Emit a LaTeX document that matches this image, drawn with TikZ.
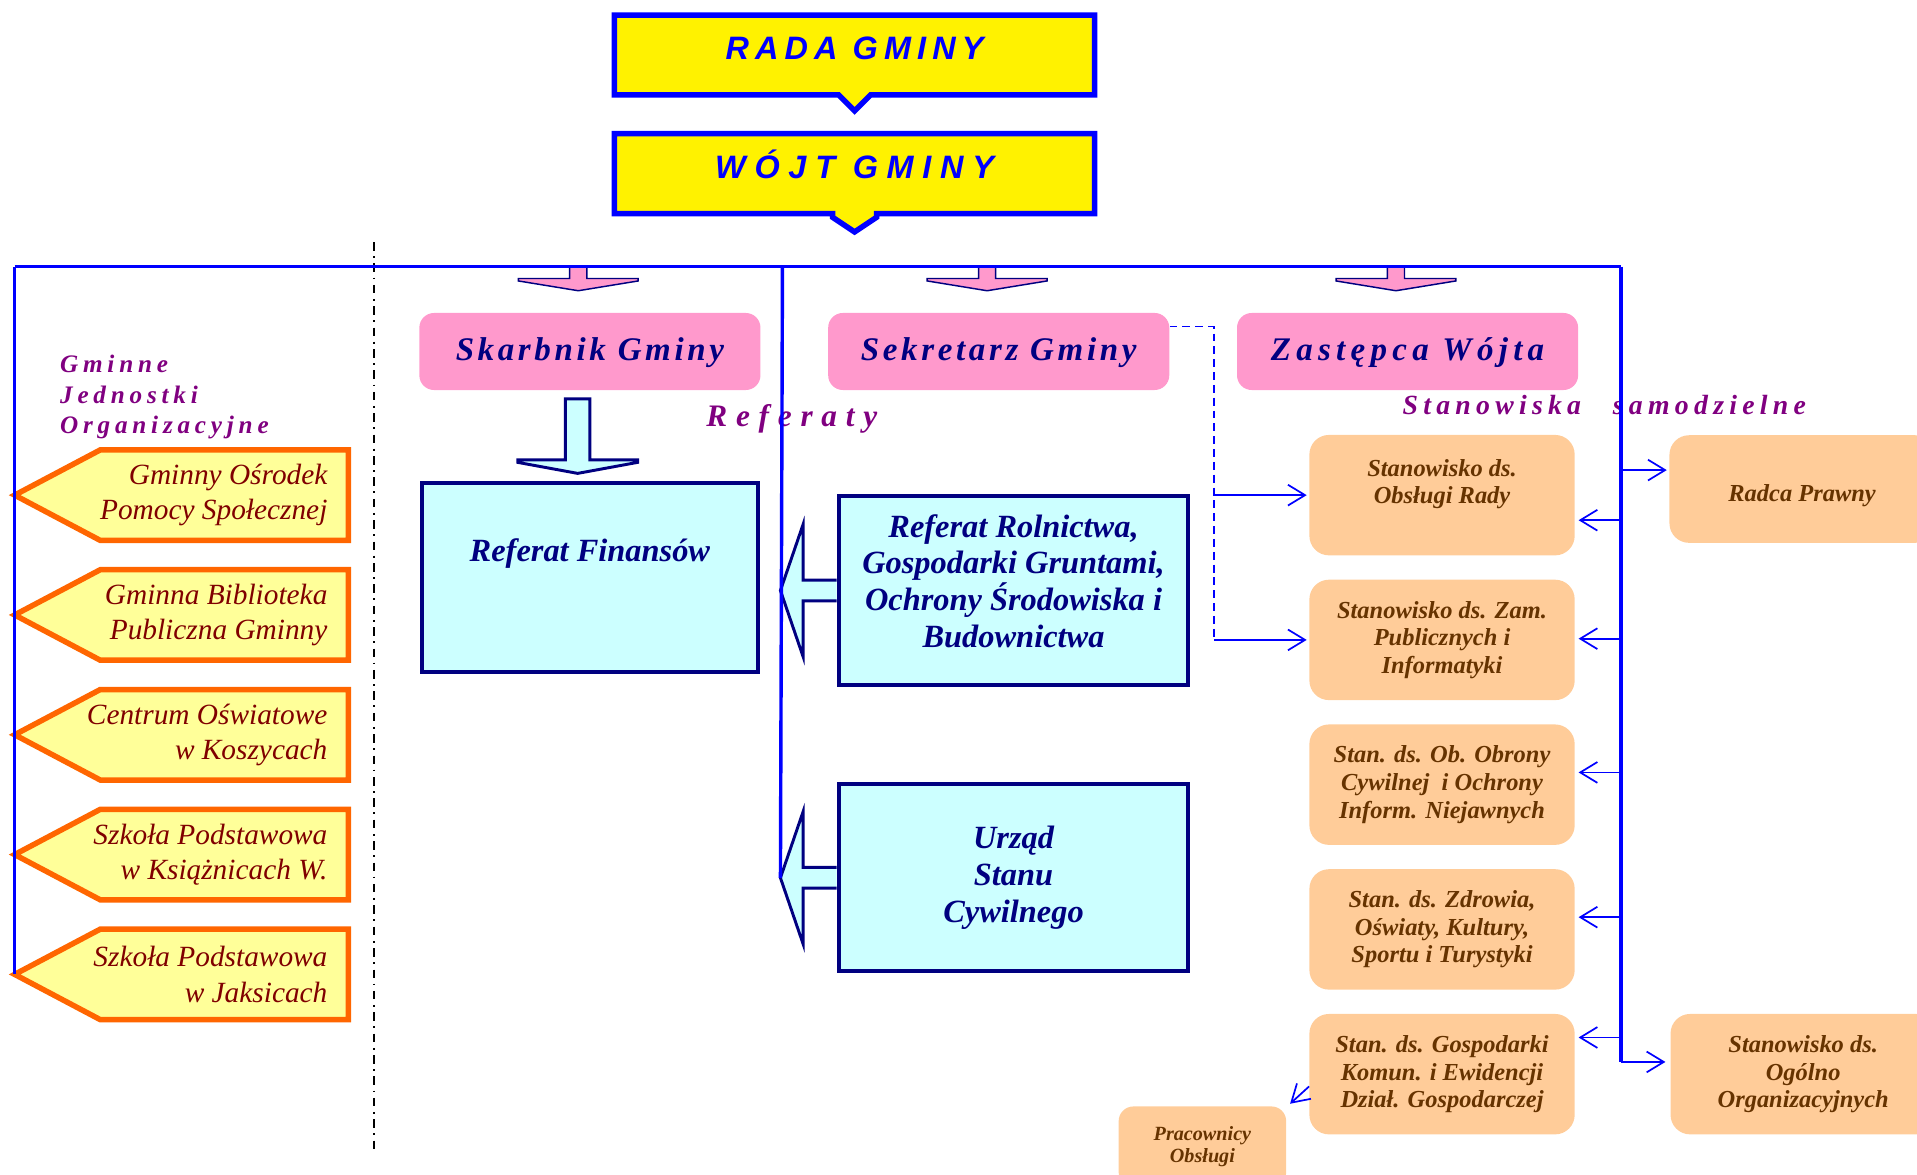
\documentclass[tikz,border=0pt]{standalone}
\usepackage{fontspec}
\setmainfont{Liberation Serif}
\newfontfamily\arialfont{Liberation Sans}
\usetikzlibrary{positioning,calc,backgrounds,arrows.meta}
\definecolor{navy}{HTML}{000080}
\definecolor{pinkfill}{HTML}{FF99CC}
\definecolor{cyanfill}{HTML}{CCFFFF}
\definecolor{orangefill}{HTML}{FFCC99}
\definecolor{pentfill}{HTML}{FFFF99}
\definecolor{pentline}{HTML}{FF6600}
\definecolor{purplelbl}{HTML}{800080}
\definecolor{darkred}{HTML}{800000}
\definecolor{stbrown}{HTML}{663300}
\newcommand\lsp[1]{\addfontfeatures{LetterSpace=#1}}

\begin{document}
\begin{tikzpicture}[x=1pt, y=-1pt]
	\tikzset{
		topbox/.style={fill=yellow, draw=blue, line width=4.5pt, line join=miter},
		toptext/.style={text=blue, inner sep=0pt, minimum width=392.4pt, minimum height=65pt, text height=19pt, text depth=11pt, font=\arialfont\fontsize{26.5}{30}\selectfont\bfseries\itshape},
		pinkbox/.style={fill=pinkfill, rounded corners=12pt, minimum width=279pt, minimum height=63pt, text height=18pt, text depth=4pt, text=navy, font=\fontsize{27}{30}\selectfont\bfseries\itshape},
		pinkarrow/.style={fill=pinkfill, draw=navy, line width=1.2pt, line join=miter},
		cyanbox/.style={fill=cyanfill, draw=navy, line width=3.3pt, align=center, text=navy, font=\fontsize{26.5}{30}\selectfont\bfseries\itshape},
		cyanarrow/.style={fill=cyanfill, draw=navy, line width=2.4pt, line join=miter},
		stbox/.style={fill=orangefill, rounded corners=16pt, minimum width=217pt, minimum height=98.5pt, align=center, text=stbrown, font=\fontsize{20}{22.5}\selectfont\bfseries\itshape},
		joname/.style={anchor=east, align=right, inner sep=0pt, text=darkred, font=\fontsize{24}{29}\selectfont\itshape},
		pent/.style={fill=pentfill, draw=pentline, line width=4.5pt, line join=miter},
		grouplbl/.style={anchor=west, align=left, inner sep=0pt, text=purplelbl},
		bus/.style={draw=blue, line width=2.8pt},
		sarrow/.style={draw=blue, line width=1.4pt, -{Straight Barb[length=14pt, width=17pt]}},
		dline/.style={draw=blue, line width=1.4pt, dash pattern=on 6.5pt off 4pt},
		divider/.style={draw=black, line width=1.3pt, dash pattern=on 7pt off 4.5pt on 1.5pt off 4.5pt}
	}
	\useasboundingbox (0,0) rectangle (1568,961);
	\node[toptext] (rada) at (699,45) {\lsp{19}RADA GMINY};
	\node[toptext] (wojt) at (699,142) {\lsp{27}WÓJT GMINY};
	\node[pinkbox] (skarbnik) at (482.5,287.5) {\lsp{11}Skarbnik Gminy};
	\node[pinkbox, right=55pt of skarbnik] (sekretarz) {\lsp{11}Sekretarz Gminy};
	\node[pinkbox, right=55pt of sekretarz] (zastepca) {\lsp{16}Zastępca Wójta};
	\node[grouplbl, font=\fontsize{20.6}{25}\selectfont\bfseries\itshape\lsp{19}] (lblJO) at (49,325) {Gminne\\Jednostki\\Organizacyjne};
	\node[grouplbl, font=\fontsize{25.6}{30}\selectfont\bfseries\itshape\lsp{28}] (lblRef) at (577.6,343) {Referaty};
	\node[grouplbl, font=\fontsize{22.7}{26}\selectfont\bfseries\itshape\lsp{19}] (lblSt) at (1147,331) {Stanowiska\hspace{26pt}samodzielne};
	\node[cyanbox, minimum width=275pt, minimum height=155pt, text height=19pt, text depth=45pt] (finanse) at (482.5,472.5) {Referat Finansów};
	\node[cyanbox, minimum width=286pt, minimum height=155pt] (rolnictwo) at (829,483) {Referat Rolnictwa,\\Gospodarki Gruntami,\\Ochrony Środowiska i\\Budownictwa\\[-14pt]~};
	\node[cyanbox, minimum width=286pt, minimum height=153pt] (usc) at (829,718) {Urząd\\Stanu\\Cywilnego};
	\node[stbox] (st1) at (1179.5,405) {Stanowisko ds.\\Obsługi Rady\\~};
	\node[stbox, below=19.5pt of st1] (st2) {Stanowisko ds. Zam.\\Publicznych i\\Informatyki};
	\node[stbox, below=19.5pt of st2] (st3) {Stan. ds. Ob. Obrony\\Cywilnej~ i Ochrony\\Inform. Niejawnych};
	\node[stbox, below=19.5pt of st3] (st4) {Stan. ds. Zdrowia,\\Oświaty, Kultury,\\Sportu i Turystyki};
	\node[stbox, below=19.5pt of st4] (st5) {Stan. ds. Gospodarki\\Komun. i Ewidencji\\Dział. Gospodarczej};
	\node[stbox, minimum height=88pt, text height=20pt, text depth=0pt] (radca) at (1474,400) {Radca Prawny};
	\node[stbox, right=78pt of st5] (ogolno) {Stanowisko ds.\\Ogólno\\Organizacyjnych};
	\node[stbox, rounded corners=12pt, minimum width=137pt, minimum height=66pt, font=\fontsize{16.5}{18.5}\selectfont\bfseries\itshape] (prac) at (983.5,938) {Pracownicy\\Obsługi};
	\node[joname] (jo1) at (268,405) {Gminny Ośrodek\\Pomocy Społecznej};
	\node[joname] (jo2) at (268,503) {Gminna Biblioteka\\Publiczna Gminny};
	\node[joname] (jo3) at (268,601) {Centrum Oświatowe\\w Koszycach};
	\node[joname] (jo4) at (268,699) {Szkoła Podstawowa\\w Książnicach W.};
	\node[joname] (jo5) at (268,797) {Szkoła Podstawowa\\w Jaksicach};
	\begin{pgfonlayer}{background}
		\path[topbox] (rada.south west) |- (rada.north east) |- ($(rada.south)+(13,0)$) -- ($(rada.south)+(0,13)$) -- ($(rada.south)+(-13,0)$) -- cycle;
		\path[topbox] (wojt.south west) |- (wojt.north east) |- ($(wojt.south)+(18,0)$) -- ++(0,3) -- ($(wojt.south)+(0,15)$) -- ($(wojt.south)+(-18,3)$) -- ++(0,-3) -- cycle;
		\foreach \n in {skarbnik,sekretarz,zastepca}
			\path[pinkarrow] ($(\n.north)+(-16.5,-38)$) -- ++(0,10) -- ++(-42,0) -- ++(0,2) -- ++(49,8) -- ++(49,-8) -- ++(0,-2) -- ++(-42,0) -- ++(0,-10) -- cycle;
		\path[cyanarrow] ($(skarbnik.south)+(-20,7)$) -- ++(0,50) -- ++(-39,0) -- ++(0,2) -- ++(49,9) -- ++(49,-9) -- ++(0,-2) -- ++(-39,0) -- ++(0,-50) -- cycle;
		\foreach \n in {rolnictwo,usc}
			\path[cyanarrow] ($(\n.west)+(0,-8.5)$) -- ++(-27.5,0) -- ++(0,-45.5) -- ++(-18.5,54) -- ++(18.5,54) -- ++(0,-45.5) -- ++(27.5,0);
		\foreach \i in {1,...,5}
			\path[pent] ($(jo\i.east)+(17,-37)$) -- ++(-203,0) -- ++(-70,37) -- ++(70,37) -- ++(203,0) -- cycle;
	\end{pgfonlayer}
	\draw[divider] (306,198) -- (306,942);
	\coordinate (busL) at (12,218);
	\coordinate (busM) at (640,218);
	\coordinate (busR) at (1326,218);
	\coordinate (ogIn) at ($(ogolno.west)+(-4,-10)$);
	\coordinate (raIn) at ($(radca.west)+(-2,-15.5)$);
	\draw[bus] (busL) -- (busR);
	\draw[bus] (busL) -- ($(jo5.east)+(-256,0)$);
	\draw[bus] (busM) -- ($(usc.west)+(-46,0)$);
	\draw[bus] (busR) -- (busR |- ogIn);
	\draw[sarrow] (busR |- ogIn) -- (ogIn);
	\draw[sarrow] (busR |- raIn) -- (raIn);
	\foreach \n/\dy in {st1/20.5,st2/-1,st3/-10,st4/-10,st5/-30} {
		\coordinate (in) at ($(\n.east)+(3,\dy)$);
		\draw[sarrow] (busR |- in) -- (in);
	}
	\coordinate (dashTop) at ($(sekretarz.east)+(0,-20.5)$);
	\coordinate (dashX) at ($(st1.west)+(-78,0)$);
	\draw[dline] (dashTop) -| (dashX |- st2.west);
	\draw[sarrow] (dashX) -- ($(st1.west)+(-2,0)$);
	\draw[sarrow] (dashX |- st2.west) -- ($(st2.west)+(-2,0)$);
	\draw[sarrow] ($(st5.west)+(0,10)$) -- ($(prac.north east)+(3,-2)$);
\end{tikzpicture}
\end{document}
